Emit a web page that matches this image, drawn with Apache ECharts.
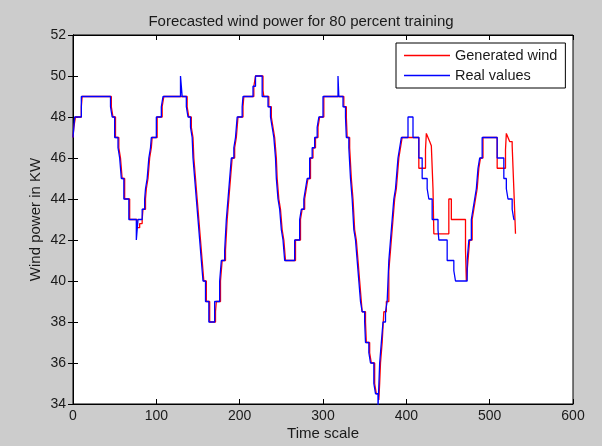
<!DOCTYPE html>
<html>
<head>
<meta charset="utf-8">
<script src="https://cdn.jsdelivr.net/npm/echarts@6/dist/echarts.min.js"></script>
<style>
  html, body { margin: 0; padding: 0; background: #cccccc; }
  #chart { width: 602px; height: 446px; }
</style>
</head>
<body>
<div id="chart"></div>
<script>
// step breakpoints: value y[i] holds from x[i] until x[i+1]
const realX = [0, 2, 10, 45, 47, 50, 54, 56, 58, 61, 67, 76, 78, 83, 86, 87, 89, 91, 93, 94, 100, 106, 108,
  129, 130, 131, 136, 138, 141, 143, 144, 146, 148, 150, 152, 154, 156, 159, 163, 170, 176, 178, 182, 184,
  186, 188, 190, 193, 195, 197, 203, 204, 216, 219, 227, 234, 237, 239, 241, 243, 244, 246, 248, 250, 252,
  254, 266, 272, 274, 277, 279, 281, 284, 287, 290, 293, 295, 300, 318, 319, 324, 327, 328, 331, 333, 335,
  337, 339, 341, 343, 345, 347, 350, 351, 355, 357, 361, 363, 366, 368, 370, 372, 375, 377, 378, 379, 381,
  383, 385, 387, 388, 390, 392, 394, 402, 408, 415, 419, 425, 427, 431, 438, 439, 449, 457, 459, 473, 475,
  478, 480, 482, 484, 486, 488, 491, 509, 517, 520, 522, 527, 529, 530];
const realY = [47, 48, 49, 48.5, 48, 47, 46.5, 46, 45, 44, 43, 42, 43, 43.5, 44, 44.5, 45, 46, 46.5, 47, 48, 48.5, 49,
  50, 49.5, 49, 48.5, 48, 47.5, 47, 46, 45, 44, 43, 42, 41, 40, 39, 38, 39, 40, 41, 41.5, 43,
  44, 45, 46, 46.5, 47, 48, 48.5, 49, 49.5, 50, 49, 48.5, 48, 47.5, 47, 46, 45, 44, 43.5, 42.5, 42,
  41, 42, 43, 43.5, 44, 44.5, 45, 46, 46.5, 47, 47.5, 48, 49, 50, 49, 48.5, 48, 47, 46.5, 45, 44,
  42.5, 42, 41, 40, 39, 38.5, 38, 37, 36.5, 36, 35, 34.5, 33.8, 36, 37, 38, 38.5, 39, 40, 41, 42,
  43, 44, 44.5, 45, 46, 46.5, 47, 48, 47, 46, 45, 44.5, 44, 43, 42.5, 42, 41, 40.5, 40, 41, 42,
  43, 43.5, 44, 44.5, 45.5, 46, 47, 46, 45, 44.5, 44, 43.5, 43, 43];

const genX = [0, 1, 3, 10, 11, 46, 48, 51, 55, 57, 59, 62, 68, 77, 80, 83, 84, 87, 88, 90, 92, 94, 95, 101, 107, 109,
  137, 139, 142, 144, 145, 147, 149, 151, 153, 155, 157, 160, 164, 171, 172, 177, 179, 183, 185, 187, 189,
  191, 194, 196, 198, 204, 205, 217, 219, 228, 229, 235, 238, 240, 242, 244, 245, 247, 249, 251, 253, 255,
  267, 273, 275, 278, 280, 282, 285, 288, 291, 294, 296, 301, 325, 328, 329, 332, 334, 336, 338, 340, 342,
  344, 346, 347, 351, 352, 356, 358, 362, 364, 367, 368, 369, 371, 373, 376, 379, 380, 382, 384, 386, 388,
  389, 391, 393, 395, 415, 423, 424, 426, 428, 430, 432, 433, 451, 454, 471, 472, 474, 476, 479, 481, 483,
  485, 487, 489, 492, 509, 519, 520, 522, 524, 527, 529, 531];
const genY = [47, 47.5, 48, 48.5, 49, 48.5, 48, 47, 46.5, 46, 45, 44, 43, 42.6, 42.8, 43, 43.5, 44, 44.5, 45, 46, 46.5, 47, 48, 48.5, 49,
  48.5, 48, 47.5, 47, 46, 45, 44, 43, 42, 41, 40, 39, 38, 38.5, 39, 40, 41, 41.5, 43, 44, 45,
  46, 46.5, 47, 48, 48.5, 49, 49.5, 50, 49.3, 49, 48.5, 48, 47.5, 47, 46, 45, 44, 43.5, 42.5, 42, 41,
  42, 43, 43.5, 44, 44.5, 45, 46, 46.5, 47, 47.5, 48, 49, 48.5, 48, 47, 46.5, 45, 44, 42.5, 42, 41,
  40, 39, 38.5, 38, 37, 36.5, 36, 35, 34.5, 34.2, 35, 36, 37, 38.5, 39, 40.5, 41, 42, 43, 44, 44.5,
  45, 46, 46.5, 47, 45.5, 46.4, 47.2, 47, 46.8, 46.6, 44.5, 42.3, 44, 43, 41.5, 40, 41, 42, 43, 43.5, 44,
  44.5, 45.5, 46, 47, 45.5, 46.4, 47.2, 47, 46.8, 46.6, 44.5, 42.3];

const xTicks = { min: 0, max: 600, step: 100 };
const yTicks = { min: 34, max: 52, step: 2 };

const font = 'Liberation Sans, Arial, sans-serif';
const ink = '#1a1a1a';
const chart = echarts.init(document.getElementById('chart'));

function pairs(xs, ys) {
  return xs.map((x, i) => [x, ys[i]]);
}

const axisCommon = {
  axisLine: { show: true, lineStyle: { color: '#000', width: 1 } },
  axisTick: { show: true, inside: true, length: 5, lineStyle: { color: '#000' } },
  splitLine: { show: false }
};

chart.setOption({
  animation: false,
  backgroundColor: '#cccccc',
  title: {
    text: 'Forecasted wind power for 80 percent training',
    left: 'center',
    top: 9,
    textStyle: { fontFamily: font, fontSize: 15, fontWeight: 'normal', color: ink }
  },
  legend: {
    orient: 'vertical',
    left: 396,
    top: 43,
    padding: [4, 8, 4, 8],
    itemGap: 3,
    itemWidth: 46,
    itemHeight: 1.5,
    icon: 'rect',
    backgroundColor: '#fff',
    borderColor: '#000',
    borderWidth: 1,
    borderRadius: 0,
    textStyle: { fontFamily: font, fontSize: 14.5, color: ink, lineHeight: 17 },
    data: ['Generated wind', 'Real values']
  },
  grid: {
    left: 73, right: 29, top: 35, bottom: 41,
    show: true,
    backgroundColor: '#fff',
    borderColor: '#000',
    borderWidth: 1
  },
  xAxis: [
    Object.assign({
      type: 'value', position: 'bottom',
      min: xTicks.min, max: xTicks.max, interval: xTicks.step,
      axisLabel: { color: ink, fontFamily: font, fontSize: 14, margin: 5 },
      name: 'Time scale', nameLocation: 'middle', nameGap: 22, nameMoveOverlap: false,
      nameTextStyle: { color: ink, fontFamily: font, fontSize: 15 }
    }, axisCommon),
    Object.assign({
      type: 'value', position: 'top',
      min: xTicks.min, max: xTicks.max, interval: xTicks.step,
      axisLabel: { show: false }
    }, axisCommon)
  ],
  yAxis: [
    Object.assign({
      type: 'value', position: 'left',
      min: yTicks.min, max: yTicks.max, interval: yTicks.step,
      axisLabel: { color: ink, fontFamily: font, fontSize: 14, margin: 7 },
      name: 'Wind power in KW', nameLocation: 'middle', nameGap: 30, nameMoveOverlap: false,
      nameTextStyle: { color: ink, fontFamily: font, fontSize: 15 }
    }, axisCommon),
    Object.assign({
      type: 'value', position: 'right',
      min: yTicks.min, max: yTicks.max, interval: yTicks.step,
      axisLabel: { show: false }
    }, axisCommon)
  ],
  series: [
    {
      name: 'Generated wind',
      type: 'line',
      step: 'end',
      symbol: 'none',
      color: '#ff0000',
      lineStyle: { color: '#ff0000', width: 1.3 },
      data: pairs(genX, genY)
    },
    {
      name: 'Real values',
      type: 'line',
      step: 'end',
      symbol: 'none',
      color: '#0000ff',
      lineStyle: { color: '#0000ff', width: 1.3 },
      data: pairs(realX, realY)
    }
  ]
});
</script>
</body>
</html>
